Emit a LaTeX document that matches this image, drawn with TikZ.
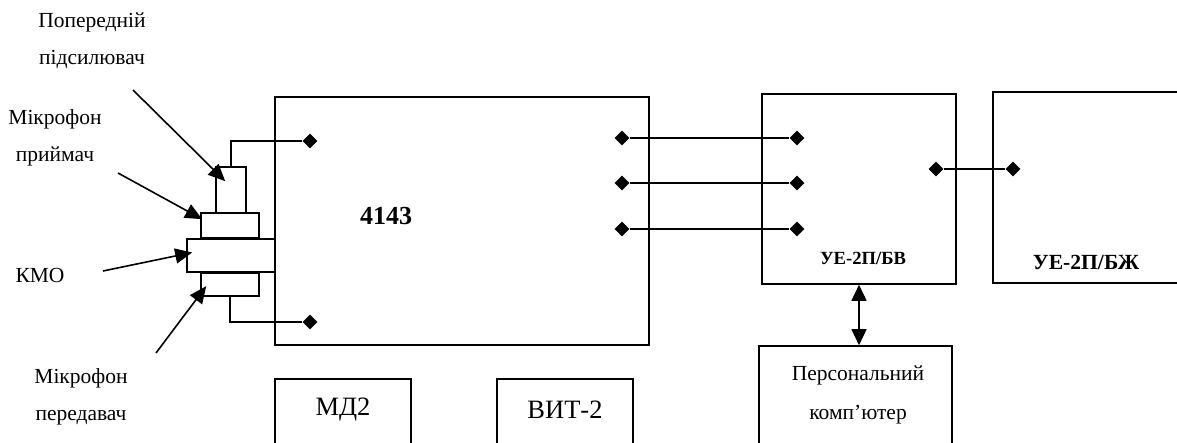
\documentclass[tikz,border=0pt]{standalone}
\usepackage{fontspec}
\setmainfont{Liberation Serif}
\usetikzlibrary{arrows.meta,shapes.geometric}

\begin{document}
\begin{tikzpicture}[x=1pt, y=-1pt,
    every node/.style={text=black},
    box/.style={draw, line width=1.6pt, inner sep=0pt},
    lbl/.style={font=\fontsize{21.5}{37}\selectfont, align=center},
    jack/.style={diamond, fill=black, inner sep=0pt, minimum width=15, minimum height=15},
    wire/.style={line width=1.6pt},
    ptr/.style={line width=1.6pt, -{Triangle[length=17pt, width=15pt]}},
    dbl/.style={line width=1.6pt, {Triangle[length=16pt, width=15pt]}-{Triangle[length=16pt, width=15pt]}},
]

% page
\fill[white] (0,0) rectangle (1177,443);
\useasboundingbox (0,0) rectangle (1177,443);

% Main unit 4143
\node[box, minimum width=374, minimum height=248] (m4143) at (462,221) {};
\node[font=\fontsize{26}{30}\selectfont\bfseries] (t4143) at (386,216) {4143};

% Sensor stack
\node[box, minimum width=30, minimum height=46] (pre) at (231,190) {};
\node[box, minimum width=58, minimum height=25] (rx) at (230,225.5) {};
\node[box, minimum width=88, minimum height=33] (kmo) at (231,255.5) {};
\node[box, minimum width=58, minimum height=23] (tx) at (230,284.5) {};

% Jacks of 4143
\node[jack] (jin1) at (310,141) {};
\node[jack] (jin2) at (310,322) {};
\node[jack] (jo1) at (622,138) {};
\node[jack] (jo2) at (622,183) {};
\node[jack] (jo3) at (622,229) {};

\draw[wire] (jin1) -| (pre.north);
\draw[wire] (jin2) -| (tx.south);

% Unit UE-2P/BV
\node[box, minimum width=194, minimum height=190] (bv) at (859,189) {};
\node[font=\fontsize{18.6}{22}\selectfont\bfseries] (tbv) at (863,258) {УЕ-2П/БВ};
\node[jack] (jb1) at (797,138) {};
\node[jack] (jb2) at (797,183) {};
\node[jack] (jb3) at (797,229) {};
\node[jack] (jbo) at (936,169) {};

\draw[wire] (jo1) -- (jb1);
\draw[wire] (jo2) -- (jb2);
\draw[wire] (jo3) -- (jb3);

% Unit UE-2P/BZh
\node[box, minimum width=192, minimum height=191] (bz) at (1089,187.5) {};
\node[font=\fontsize{21.6}{25}\selectfont\bfseries] (tbz) at (1086,262) {УЕ-2П/БЖ};
\node[jack] (jz) at (1013,169) {};

\draw[wire] (jbo) -- (jz);

% Personal computer
\node[box, minimum width=193, minimum height=120] (pc) at (855.5,406) {};
\node[lbl, font=\fontsize{21.5}{39}\selectfont] (tpc) at (858,395) {Персональний\\комп’ютер};
\draw[dbl] (bv.south) -- (bv.south |- pc.north);

% Instruments
\node[box, minimum width=136, minimum height=80] (md) at (343,419) {};
\node[font=\fontsize{26.5}{30}\selectfont] (tmd) at (343,410) {МД2};
\node[box, minimum width=136, minimum height=80] (vit) at (565,419) {};
\node[font=\fontsize{26.5}{30}\selectfont] (tvit) at (565,410) {ВИТ-2};

% Callouts
\node[lbl] (lpre) at (92,41) {Попередній\\підсилювач};
\coordinate (spre) at (133,90);
\draw[ptr] (spre) -- ([shift={(10,15)}]pre.north west);

\node[lbl] (lrx) at (55,138) {Мікрофон\\приймач};
\coordinate (srx) at (118,173);
\draw[ptr] (srx) -- ([shift={(2,7)}]rx.north west);

\node[lbl] (lkmo) at (40,275) {КМО};
\coordinate (skmo) at (103,271);
\draw[ptr] (skmo) -- ([shift={(6,-3)}]kmo.west);

\node[lbl] (ltx) at (81,397) {Мікрофон\\передавач};
\coordinate (stx) at (156,353);
\draw[ptr] (stx) -- ([shift={(6,14)}]tx.north west);

\end{tikzpicture}
\end{document}
